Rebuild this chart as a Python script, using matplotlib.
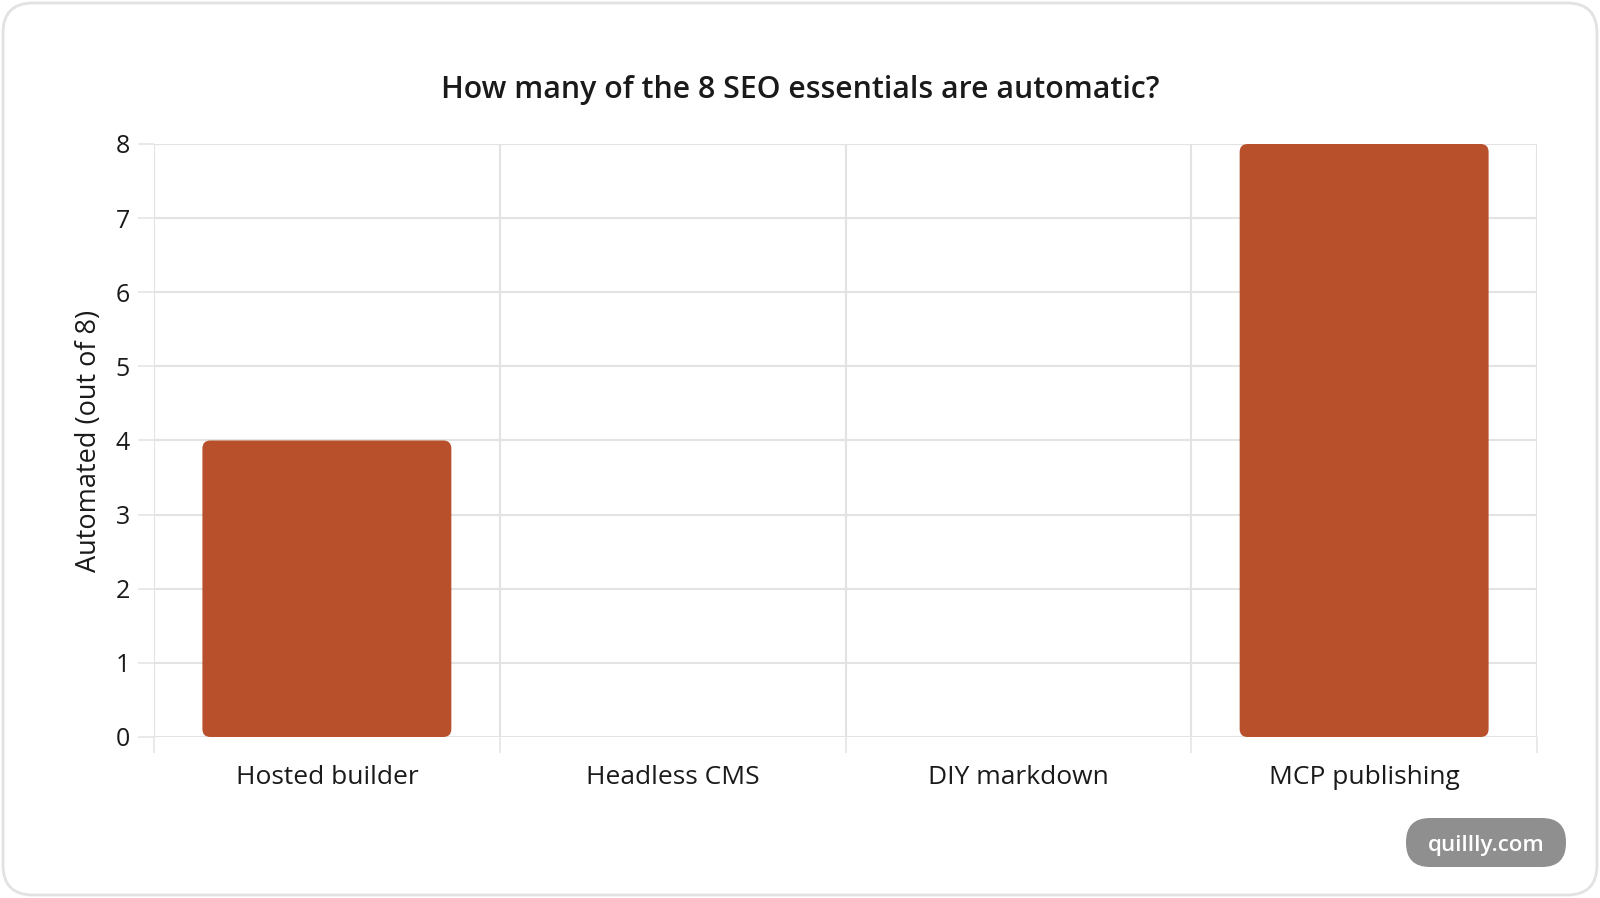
import matplotlib
matplotlib.use("Agg")
import matplotlib.pyplot as plt
from matplotlib.patches import FancyBboxPatch
from matplotlib.transforms import IdentityTransform

plt.rcParams['font.family'] = ['Open Sans', 'Noto Sans', 'DejaVu Sans']

# data
categories = ["Hosted builder", "Headless CMS", "DIY markdown", "MCP publishing"]
automated = [4, 0, 0, 8]
y_ticks = [0, 1, 2, 3, 4, 5, 6, 7, 8]

bar_color = "#B8502C"
grid_color = "#e3e3e3"
text_color = "#1a1a1a"

W, H = 1600, 898
fig = plt.figure(figsize=(W / 100, H / 100), dpi=100)
fig.patch.set_facecolor("white")

# card border
card = FancyBboxPatch((3, 3), W - 6, H - 6, boxstyle="round,pad=0,rounding_size=30",
                      transform=IdentityTransform(), facecolor="white",
                      edgecolor="#e2e2e2", linewidth=2, zorder=-5)
fig.patches.append(card)

# plot area in pixels
left, right, top, bottom = 154, 1537, 144, 737
ax = fig.add_axes([left / W, (H - bottom) / H, (right - left) / W, (bottom - top) / H])
ax.set_facecolor("none")
ax.set_zorder(2)
ax.set_xlim(-0.5, len(categories) - 0.5)
ax.set_ylim(0, 8)

for s in ax.spines.values():
    s.set_visible(False)

# grid
ax.set_yticks(y_ticks)
ax.set_xticks(range(len(categories)))
ax.set_xticklabels(categories)
ax.set_xticks([i - 0.5 for i in range(len(categories) + 1)], minor=True)
ax.grid(axis="y", which="major", color=grid_color, linewidth=1.5, zorder=0)
ax.grid(axis="x", which="minor", color=grid_color, linewidth=1.5, zorder=0)
ax.tick_params(axis="y", length=11.5, width=1.1, color=grid_color, labelsize=18,
               labelcolor=text_color, pad=6)
ax.tick_params(axis="x", which="major", length=0, labelsize=19, labelcolor=text_color, pad=20)
ax.tick_params(axis="x", which="minor", length=11.5, width=1.1, color=grid_color)

# bars with rounded corners
bars = ax.bar(range(len(categories)), automated, width=0.72, color=bar_color)
px_x = (right - left) / (len(categories))
px_y = (bottom - top) / 8
aspect = px_x / px_y
for b in bars:
    x, y = b.get_x(), b.get_y()
    w, h = b.get_width(), b.get_height()
    b.remove()
    if h <= 0:
        continue
    r = 8 / px_x
    p = FancyBboxPatch((x, y), w, h, boxstyle=f"round,pad=0,rounding_size={r}",
                       mutation_aspect=aspect, facecolor=bar_color, edgecolor="none", zorder=3)
    ax.add_patch(p)

ax.set_ylabel("Automated (out of 8)", fontsize=19.5, color=text_color, labelpad=9)
fig.text(800 / W, 1 - 90 / H, "How many of the 8 SEO essentials are automatic?",
         ha="center", va="center", fontsize=21.8, fontweight="semibold", color=text_color)

# watermark pill
pill = FancyBboxPatch((1406, 31), 160, 49, boxstyle="round,pad=0,rounding_size=24",
                      transform=IdentityTransform(), facecolor="#8f8f8f",
                      edgecolor="none", zorder=5)
fig.patches.append(pill)
fig.text(1486 / W, 52 / H, "quillly.com", ha="center", va="center",
         fontsize=16, fontweight="semibold", color="white", zorder=6)

fig.savefig("out.png", dpi=100, facecolor="white")
